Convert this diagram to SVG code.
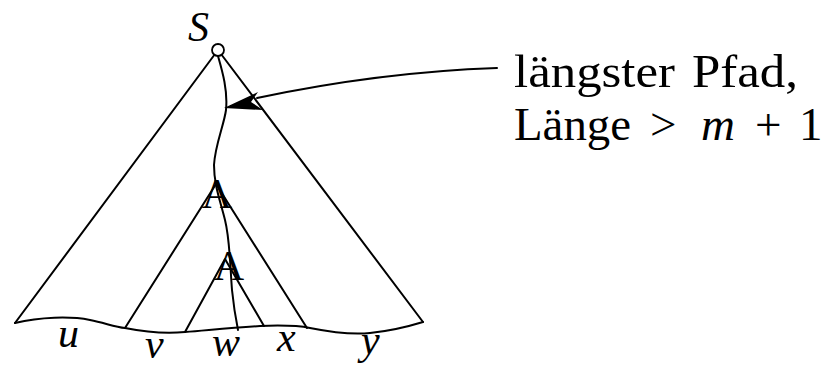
<svg xmlns="http://www.w3.org/2000/svg" width="827" height="366" viewBox="0 0 827 366">
<style>
.ln{fill:none;stroke:#000;stroke-width:2;stroke-linejoin:round;stroke-linecap:round}
text{font-family:'Liberation Serif','DejaVu Serif',serif;fill:#000}
.it{font-style:italic;font-size:42px}
.rm{font-size:47px}
.lbA{font-size:42px;text-anchor:middle}
</style>
<rect width="827" height="366" fill="#fff"/>
<g id="tree-outer">
<polyline class="ln" points="15,323 218,50 423,322"/>
<path class="ln" d="M15,323 C40,317 70,316 90,320 C105,323 115,327 125,328 C145,332 165,334 185,332 C210,330 230,328 260,326 C285,325 300,326 310,328 C330,332 350,335 370,333 C390,331 410,326 423,322"/>
</g>
<g id="tree-middle">
<polyline class="ln" points="125,328 216,184 307,328"/>
<text class="lbA" x="217" y="208">A</text>
</g>
<g id="tree-inner">
<polyline class="ln" points="185,332 225,259 264,326"/>
<text class="lbA" x="229" y="280">A</text>
</g>
<g id="connectors">
<path class="ln" d="M218,56 C222,70 228,90 226,110 C224,125 215,145 214,165 C214,185 220,200 225,220 C230,240 230,265 232,290 C234,310 236,320 238,330"/>
<path class="ln" d="M497,68 Q380,72 257,98"/>
<polygon points="224,108 258,92 251,102 263,110" fill="#000"/>
</g>
<g id="root">
<circle cx="218" cy="50" r="6" fill="#fff" stroke="#000" stroke-width="1.8"/>
<text class="it" x="188" y="41">S</text>
</g>
<g id="labels">
<text class="it" x="58" y="347">u</text>
<text class="it" x="145" y="358">v</text>
<text class="it" x="212" y="356">w</text>
<text class="it" x="277" y="351">x</text>
<text class="it" x="361" y="354">y</text>
</g>
<g id="caption">
<text class="rm" x="514" y="87" textLength="161" lengthAdjust="spacingAndGlyphs">längster</text>
<text class="rm" x="692" y="87" textLength="106" lengthAdjust="spacingAndGlyphs">Pfad,</text>
<text class="rm" x="514" y="140" textLength="117" lengthAdjust="spacingAndGlyphs">Länge</text>
<text class="rm" x="650" y="140">&gt;</text>
<text class="rm" x="701" y="140" font-style="italic">m</text>
<text class="rm" x="755" y="140">+</text>
<text class="rm" x="799" y="140">1</text>
</g>
</svg>
